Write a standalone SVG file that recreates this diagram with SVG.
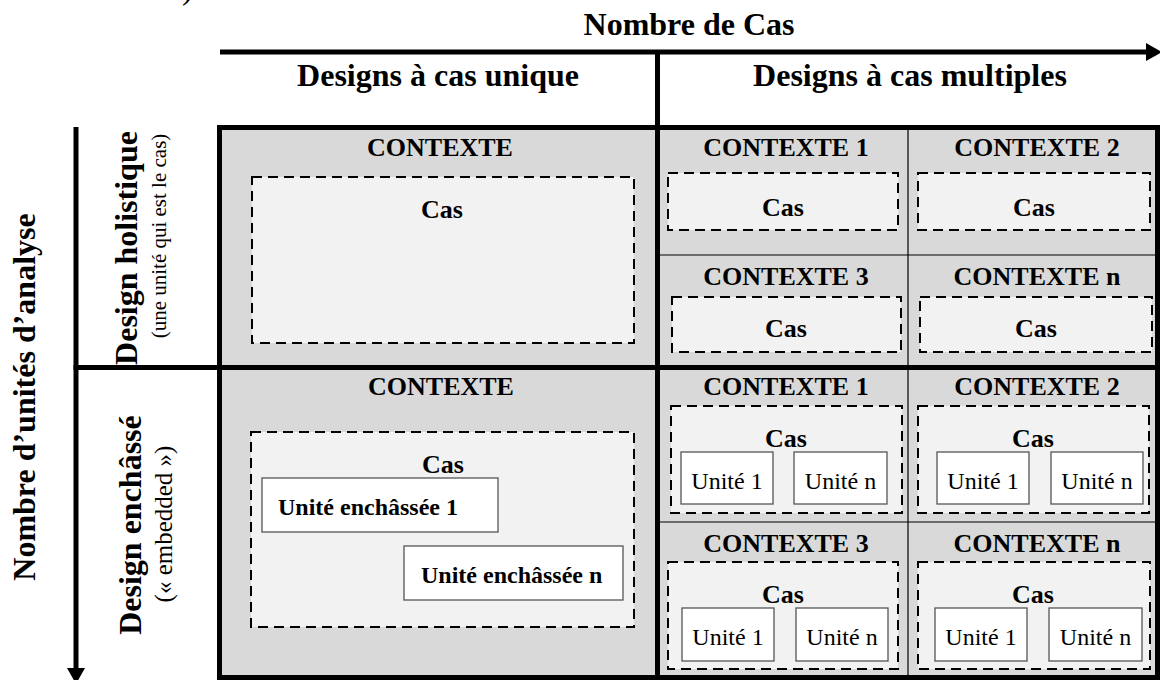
<svg xmlns="http://www.w3.org/2000/svg" width="1160" height="680" viewBox="0 0 1160 680">
  <style>
    text { font-family: "Liberation Serif", "Times New Roman", serif; fill: #000; }
    .h { font-size: 32px; font-weight: bold; }
    .ctx { font-size: 26px; font-weight: bold; text-anchor: middle; }
    .cs { font-size: 26px; font-weight: bold; text-anchor: middle; }
    .ue { font-size: 24px; font-weight: bold; }
    .u { font-size: 24px; text-anchor: middle; }
    .sub1 { font-size: 21px; }
    .sub2 { font-size: 25px; }
    .ctxbox { fill: #d9d9d9; stroke: none; }
    .casbox { fill: #f2f2f2; stroke: #000; stroke-width: 2; stroke-dasharray: 10 6; }
    .unit { fill: #ffffff; stroke: #555; stroke-width: 1.3; }
    .thick { stroke: #000; stroke-width: 5; fill: none; }
    .thin { stroke: #000; stroke-width: 1.2; fill: none; }
    .axis { stroke: #000; stroke-width: 5; fill: none; }
  </style>
  <defs>
    <marker id="arrow" markerUnits="userSpaceOnUse" markerWidth="16" markerHeight="20" refX="0" refY="9" orient="auto">
      <path d="M0,0 L16,9 L0,18 z" fill="#000"/>
    </marker>
  </defs>

  <rect width="1160" height="680" fill="#ffffff"/>

  <text class="h" x="182" y="-1" style="font-weight:normal">)</text>

  <!-- grid backgrounds -->
  <g id="grid-fill">
    <rect class="ctxbox" x="219.5" y="127.5" width="938" height="550"/>
  </g>

  <!-- connectors: axes and grid lines -->
  <g id="connectors">
    <line class="axis" x1="220" y1="52" x2="1146" y2="52" marker-end="url(#arrow)"/>
    <line class="axis" x1="76" y1="127" x2="76" y2="668" marker-end="url(#arrow)"/>
    <line class="thick" x1="657.5" y1="50" x2="657.5" y2="128"/>
    <line class="thick" x1="73.5" y1="367.5" x2="220" y2="367.5"/>
    <rect class="thick" x="219.5" y="127.5" width="938" height="550"/>
    <line class="thick" x1="657.5" y1="127.5" x2="657.5" y2="677.5"/>
    <line class="thick" x1="219.5" y1="367.5" x2="1157.5" y2="367.5"/>
    <line class="thin" x1="908" y1="130" x2="908" y2="675"/>
    <line class="thin" x1="660" y1="255" x2="1155" y2="255"/>
    <line class="thin" x1="660" y1="522" x2="1155" y2="522"/>
  </g>

  <!-- axis labels -->
  <g id="label-nombre-cas">
    <text class="h" x="689" y="35" text-anchor="middle">Nombre de Cas</text>
  </g>
  <g id="label-unique">
    <text class="h" x="438" y="86" text-anchor="middle">Designs à cas unique</text>
  </g>
  <g id="label-multiples">
    <text class="h" x="910" y="86" text-anchor="middle">Designs à cas multiples</text>
  </g>
  <g id="label-unites">
    <text class="h" transform="translate(35,397) rotate(-90)" text-anchor="middle">Nombre d’unités d’analyse</text>
  </g>
  <g id="label-holistique">
    <text class="h" transform="translate(137,248) rotate(-90)" text-anchor="middle">Design holistique</text>
    <text class="sub1" transform="translate(166,236) rotate(-90)" text-anchor="middle">(une unité qui est le cas)</text>
  </g>
  <g id="label-enchasse">
    <text class="h" transform="translate(141,525) rotate(-90)" text-anchor="middle">Design enchâssé</text>
    <text class="sub2" transform="translate(172,524) rotate(-90)" text-anchor="middle">(« embedded »)</text>
  </g>

  <!-- top-left: single holistic -->
  <g id="cell-unique-holistique">
    <text class="ctx" x="440" y="156">CONTEXTE</text>
    <rect class="casbox" x="252" y="177" width="382" height="166"/>
    <text class="cs" x="442" y="218">Cas</text>
  </g>

  <!-- top-right: multiple holistic -->
  <g id="cell-multi-holistique-1">
    <text class="ctx" x="786" y="156">CONTEXTE 1</text>
    <rect class="casbox" x="668" y="173" width="230" height="57"/>
    <text class="cs" x="783" y="216">Cas</text>
  </g>
  <g id="cell-multi-holistique-2">
    <text class="ctx" x="1037" y="156">CONTEXTE 2</text>
    <rect class="casbox" x="918" y="173" width="232" height="57"/>
    <text class="cs" x="1034" y="216">Cas</text>
  </g>
  <g id="cell-multi-holistique-3">
    <text class="ctx" x="786" y="285">CONTEXTE 3</text>
    <rect class="casbox" x="672" y="297" width="229" height="55"/>
    <text class="cs" x="786" y="337">Cas</text>
  </g>
  <g id="cell-multi-holistique-n">
    <text class="ctx" x="1037" y="285">CONTEXTE n</text>
    <rect class="casbox" x="920" y="297" width="232" height="55"/>
    <text class="cs" x="1036" y="337">Cas</text>
  </g>

  <!-- bottom-left: single embedded -->
  <g id="cell-unique-enchasse">
    <text class="ctx" x="441" y="395">CONTEXTE</text>
    <rect class="casbox" x="251" y="432" width="383" height="195"/>
    <text class="cs" x="443" y="473">Cas</text>
    <rect class="unit" x="262" y="478" width="236" height="54"/>
    <text class="ue" x="278" y="515">Unité enchâssée 1</text>
    <rect class="unit" x="404" y="546" width="219" height="54"/>
    <text class="ue" x="421" y="583">Unité enchâssée n</text>
  </g>

  <!-- bottom-right: multiple embedded -->
  <g id="cell-multi-enchasse-1">
    <text class="ctx" x="786" y="395">CONTEXTE 1</text>
    <rect class="casbox" x="671" y="406" width="231" height="107"/>
    <text class="cs" x="786" y="447">Cas</text>
    <rect class="unit" x="681" y="452" width="92" height="52"/>
    <text class="u" x="727" y="489">Unité 1</text>
    <rect class="unit" x="794" y="452" width="93" height="52"/>
    <text class="u" x="840.5" y="489">Unité n</text>
  </g>
  <g id="cell-multi-enchasse-2">
    <text class="ctx" x="1037" y="395">CONTEXTE 2</text>
    <rect class="casbox" x="918" y="406" width="231" height="107"/>
    <text class="cs" x="1033" y="447">Cas</text>
    <rect class="unit" x="937" y="452" width="92" height="52"/>
    <text class="u" x="983" y="489">Unité 1</text>
    <rect class="unit" x="1051" y="452" width="92" height="52"/>
    <text class="u" x="1097" y="489">Unité n</text>
  </g>
  <g id="cell-multi-enchasse-3">
    <text class="ctx" x="786" y="552">CONTEXTE 3</text>
    <rect class="casbox" x="668" y="562" width="230" height="107"/>
    <text class="cs" x="783" y="603">Cas</text>
    <rect class="unit" x="682" y="608" width="92" height="53"/>
    <text class="u" x="728" y="645">Unité 1</text>
    <rect class="unit" x="796" y="608" width="92" height="53"/>
    <text class="u" x="842" y="645">Unité n</text>
  </g>
  <g id="cell-multi-enchasse-n">
    <text class="ctx" x="1037" y="552">CONTEXTE n</text>
    <rect class="casbox" x="918" y="562" width="232" height="107"/>
    <text class="cs" x="1033" y="603">Cas</text>
    <rect class="unit" x="935" y="608" width="92" height="53"/>
    <text class="u" x="981" y="645">Unité 1</text>
    <rect class="unit" x="1049" y="608" width="93" height="53"/>
    <text class="u" x="1095.5" y="645">Unité n</text>
  </g>
</svg>
